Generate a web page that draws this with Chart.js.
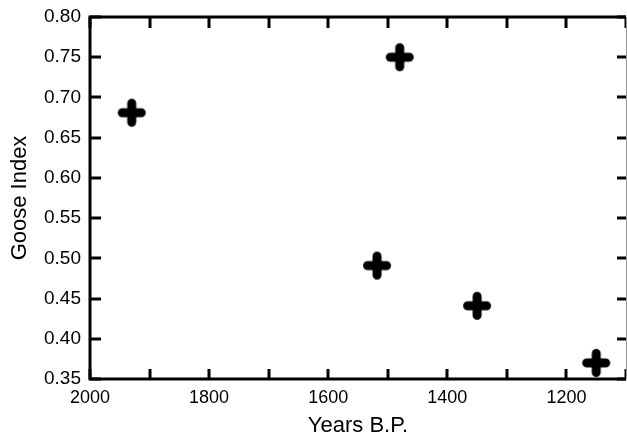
<!DOCTYPE html>
<html>
<head>
<meta charset="utf-8">
<script src="https://cdn.jsdelivr.net/npm/chart.js@4"></script>
<style>
  html, body { margin: 0; padding: 0; background: #fff; }
  #wrap { width: 627px; height: 439px; }
</style>
</head>
<body>
<div id="wrap"><canvas id="chart" width="627" height="439"></canvas></div>
<script>
// Data
const years = [1930, 1480, 1518, 1350, 1150];
const gooseIndex = [0.681, 0.750, 0.491, 0.441, 0.370];

const xMin = 1100, xMax = 2000;
const yMin = 0.35, yMax = 0.80;
const xLabelTicks = [2000, 1800, 1600, 1400, 1200];

const points = years.map((y, i) => ({ x: y, y: gooseIndex[i] }));
const FONT = "'Liberation Sans', Arial, sans-serif";

// Plus marker with rounded arm ends
function makeCross() {
  const c = document.createElement('canvas');
  c.width = 30;
  c.height = 30;
  const g = c.getContext('2d');
  g.strokeStyle = '#000';
  g.lineWidth = 9;
  g.lineCap = 'round';
  g.beginPath();
  g.moveTo(5.5, 15); g.lineTo(24.5, 15);
  g.moveTo(15, 5.5); g.lineTo(15, 24.5);
  g.stroke();
  return c;
}
const crossImg = makeCross();

// Inward ticks and frame drawn from the scales
const frame = {
  id: 'frame',
  afterDraw(chart) {
    const { ctx, chartArea: a, scales } = chart;
    const xs = scales.x, ys = scales.y;
    ctx.save();
    ctx.strokeStyle = '#000';
    ctx.lineWidth = 3;
    ctx.lineCap = 'butt';
    xs.ticks.forEach(t => {
      const px = Math.round(xs.getPixelForValue(t.value));
      ctx.beginPath();
      ctx.moveTo(px, a.bottom);
      ctx.lineTo(px, a.bottom - 10);
      ctx.moveTo(px, a.top);
      ctx.lineTo(px, a.top + 11);
      ctx.stroke();
    });
    ys.ticks.forEach(t => {
      const py = Math.round(ys.getPixelForValue(t.value));
      ctx.beginPath();
      ctx.moveTo(a.left, py);
      ctx.lineTo(a.left + 11, py);
      ctx.moveTo(a.right, py);
      ctx.lineTo(a.right - 9, py);
      ctx.stroke();
    });
    ctx.beginPath();
    ctx.moveTo(a.left, a.top);
    ctx.lineTo(a.left, a.bottom);
    ctx.lineTo(a.right, a.bottom);
    ctx.moveTo(a.left - 1.5, a.top);
    ctx.lineTo(a.right, a.top);
    ctx.stroke();
    ctx.strokeStyle = '#999';
    ctx.lineWidth = 1;
    ctx.beginPath();
    ctx.moveTo(a.right + 0.5, a.top);
    ctx.lineTo(a.right + 0.5, a.bottom);
    ctx.stroke();
    ctx.restore();
  }
};

new Chart(document.getElementById('chart'), {
  type: 'scatter',
  data: {
    datasets: [{
      data: points,
      pointStyle: crossImg,
      pointRadius: 15,
      pointHoverRadius: 15,
      borderWidth: 0,
      borderColor: '#000',
      backgroundColor: '#000'
    }]
  },
  options: {
    responsive: false,
    animation: false,
    events: [],
    layout: { autoPadding: false, padding: { top: 17, right: 1, left: 0, bottom: 0 } },
    plugins: { legend: { display: false }, tooltip: { enabled: false } },
    scales: {
      x: {
        type: 'linear',
        reverse: true,
        min: xMin,
        max: xMax,
        afterBuildTicks: (s) => {
          const out = [];
          for (let v = xMin; v <= xMax; v += 100) out.push({ value: v });
          s.ticks = out;
        },
        afterFit: (s) => { s.height = 60; s.paddingLeft = 0; s.paddingRight = 0; },
        grid: { display: false, drawTicks: false },
        border: { display: false },
        ticks: {
          padding: 8,
          color: '#000',
          maxRotation: 0,
          autoSkip: false,
          font: { family: FONT, size: 18 },
          callback: (v) => xLabelTicks.includes(v) ? String(v) : ''
        },
        title: {
          display: true,
          text: 'Years B.P.',
          color: '#000',
          font: { family: FONT, size: 22 },
          padding: { top: 4, bottom: 0 }
        }
      },
      y: {
        min: yMin,
        max: yMax,
        afterFit: (s) => { s.width = 90; s.paddingTop = 0; s.paddingBottom = 0; },
        grid: { display: false, drawTicks: false },
        border: { display: false },
        ticks: {
          stepSize: 0.05,
          padding: 9,
          color: '#000',
          font: { family: FONT, size: 19 },
          callback: (v) => v.toFixed(2)
        },
        title: {
          display: true,
          text: 'Goose Index',
          color: '#000',
          font: { family: FONT, size: 22 },
          padding: { top: 7, bottom: 0 }
        }
      }
    }
  },
  plugins: [frame]
});
</script>
</body>
</html>
